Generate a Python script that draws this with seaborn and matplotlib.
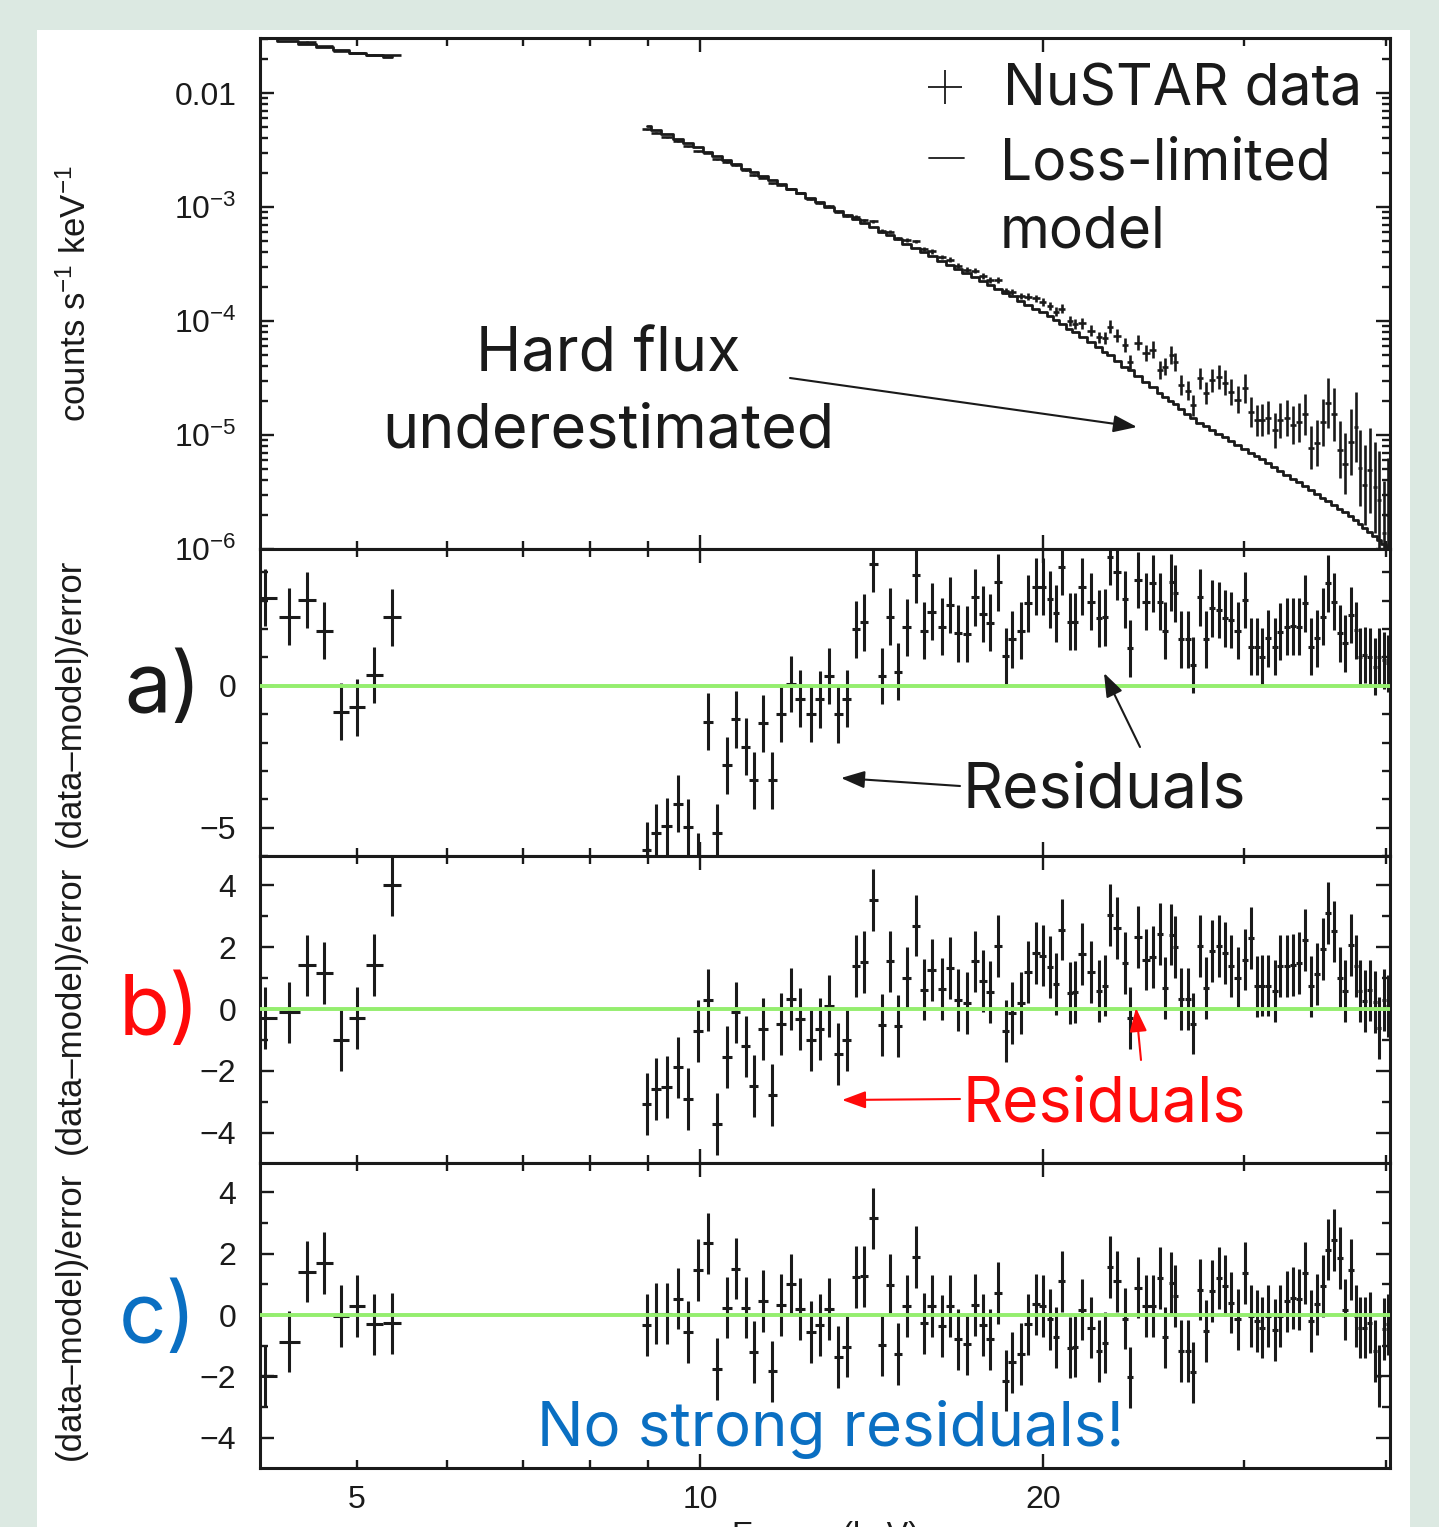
import numpy as np
import matplotlib
matplotlib.use("Agg")
import matplotlib.pyplot as plt
import seaborn as sns
from matplotlib.ticker import FixedLocator, FixedFormatter, NullFormatter, LogLocator
from matplotlib.patches import Rectangle, FancyArrowPatch
from matplotlib.lines import Line2D

sns.set_style("ticks")
plt.rcParams['font.family'] = ['Liberation Sans', 'DejaVu Sans']
plt.rcParams['mathtext.fontset'] = 'custom'
plt.rcParams['mathtext.rm'] = 'Liberation Sans'
plt.rcParams['mathtext.it'] = 'Liberation Sans:italic'
plt.rcParams['mathtext.bf'] = 'Liberation Sans:bold'

# ---------------- data ----------------
# energies of the spectral bins (keV), low band and high band
energy_low = [4.15, 4.36, 4.52, 4.68, 4.84, 5.00, 5.18, 5.37]
energy_high = [
    8.98, 9.15, 9.35, 9.57, 9.76, 9.96, 10.16, 10.35, 10.56, 10.75,
    10.97, 11.15, 11.36, 11.57, 11.78, 12.02, 12.24, 12.51, 12.74, 12.98,
    13.22, 13.46, 13.71, 13.93, 14.19, 14.45, 14.68, 14.92, 15.19, 15.47,
    15.73, 15.98, 16.31, 16.57, 16.84, 17.15, 17.43, 17.72, 17.97, 18.26,
    18.56, 18.79, 19.13, 19.40, 19.72, 20.00, 20.29, 20.53, 20.78, 21.12,
    21.34, 21.64, 22.04, 22.40, 22.67, 22.90, 23.23, 23.61, 23.85, 24.23,
    24.63, 24.98, 25.34, 25.59, 25.91, 26.12, 26.43, 26.81, 27.08, 27.47,
    27.80, 28.14, 28.54, 28.89, 29.24, 29.66, 30.08, 30.45, 30.82, 31.13,
    31.51, 31.96, 32.29, 32.75, 33.15, 33.55, 33.96, 34.38, 34.79, 35.22,
    35.58, 36.01, 36.45, 36.82, 37.27, 37.65, 37.95, 38.34, 38.73, 39.12,
    39.44, 39.84, 40.16]

# top panel: log10(counts s^-1 keV^-1) of the data, its error (dex) and the model
counts_low = [-1.49, -1.52, -1.55, -1.59, -1.63, -1.65, -1.665, -1.67]
counts_err_low = [0.004, 0.004, 0.004, 0.004, 0.004, 0.004, 0.004, 0.004]
model_low = [-1.51, -1.54, -1.57, -1.60, -1.62, -1.645, -1.67, -1.685]

counts_high = [
    -2.318, -2.349, -2.389, -2.425, -2.467, -2.511, -2.522, -2.582, -2.608, -2.632,
    -2.679, -2.719, -2.741, -2.793, -2.810, -2.841, -2.881, -2.931, -2.964, -2.993,
    -3.043, -3.075, -3.085, -3.115, -3.124, -3.211, -3.216, -3.275, -3.291, -3.301,
    -3.365, -3.390, -3.440, -3.462, -3.513, -3.552, -3.560, -3.605, -3.640, -3.641,
    -3.733, -3.747, -3.780, -3.785, -3.802, -3.830, -3.871, -3.918, -3.892, -4.000,
    -4.027, -4.020, -4.085, -4.143, -4.15, -4.05, -4.13, -4.21, -4.36, -4.19,
    -4.28, -4.25, -4.43, -4.40, -4.30, -4.36, -4.56, -4.61, -4.74, -4.50,
    -4.63, -4.52, -4.49, -4.54, -4.62, -4.69, -4.59, -4.80, -4.87, -4.87,
    -4.85, -4.96, -4.87, -4.85, -4.91, -4.89, -4.82, -5.11, -5.07, -4.89,
    -4.72, -4.82, -5.13, -5.25, -5.06, -4.93, -5.29, -5.44, -5.31, -5.46,
    -5.57, -5.86, -5.70]
counts_err_high = [
    .005, .005, .005, .006, .006, .006, .006, .007, .007, .007,
    .007, .008, .008, .008, .009, .009, .009, .010, .010, .011,
    .011, .012, .012, .013, .013, .014, .014, .015, .016, .016,
    .017, .018, .019, .020, .021, .022, .023, .024, .025, .026,
    .027, .028, .030, .031, .033, .034, .036, .038, .040, .042,
    .044, .046, .048, .050, .053, .056, .058, .061, .064, .067,
    .070, .072, .075, .077, .080, .082, .085, .087, .090, .092,
    .095, .100, .105, .110, .115, .120, .125, .130, .135, .140,
    .145, .150, .155, .160, .165, .170, .180, .190, .200, .210,
    .22, .23, .25, .27, .29, .31, .33, .35, .37, .40,
    .43, .46, .50]
model_high = [
    -2.289, -2.322, -2.362, -2.402, -2.438, -2.475, -2.514, -2.549, -2.589, -2.624,
    -2.664, -2.695, -2.731, -2.767, -2.802, -2.841, -2.877, -2.922, -2.959, -2.996,
    -3.033, -3.070, -3.108, -3.141, -3.178, -3.215, -3.248, -3.281, -3.320, -3.359,
    -3.394, -3.430, -3.473, -3.509, -3.544, -3.583, -3.618, -3.653, -3.684, -3.719,
    -3.755, -3.783, -3.824, -3.856, -3.892, -3.924, -3.956, -3.990, -4.023, -4.068,
    -4.096, -4.136, -4.186, -4.231, -4.269, -4.302, -4.347, -4.399, -4.431, -4.483,
    -4.535, -4.581, -4.629, -4.663, -4.704, -4.731, -4.772, -4.820, -4.854, -4.894,
    -4.924, -4.955, -4.991, -5.021, -5.052, -5.088, -5.124, -5.154, -5.187, -5.214,
    -5.247, -5.285, -5.312, -5.350, -5.383, -5.416, -5.449, -5.483, -5.517, -5.550,
    -5.579, -5.612, -5.646, -5.674, -5.709, -5.747, -5.777, -5.814, -5.851, -5.888,
    -5.918, -5.955, -5.985]

# residuals (data-model)/error for the three models
resid_a_low = [3.1, 2.44, 3.02, 1.94, -0.92, -0.76, 0.38, 2.41]
resid_a_high = [
    -5.8, -5.18, -4.95, -4.15, -4.98, -6.2, -1.27, -5.18, -2.8, -1.18,
    -2.15, -3.33, -1.33, -3.33, -0.98, 0.06, -0.45, -0.98, -0.48, 0.34,
    -1.0, -0.45, 1.99, 2.24, 4.29, 0.34, 2.44, 0.49, 2.06, 3.9,
    1.94, 2.61, 2.08, 2.85, 1.85, 1.82, 3.12, 2.53, 2.22, 3.65,
    1.05, 1.64, 1.94, 2.9, 3.49, 3.49, 3.05, 2.55, 4.2, 2.26,
    2.26, 3.49, 2.96, 2.38, 2.41, 4.55, 4.02, 3.05, 1.32, 3.73,
    2.96, 3.61, 2.96, 1.94, 3.64, 3.26, 1.64, 1.64, 0.73, 3.12,
    1.64, 2.73, 2.67, 2.38, 2.32, 1.94, 3.02, 1.38, 1.38, 1.02,
    1.67, 1.38, 1.91, 2.08, 2.1, 2.08, 2.9, 1.38, 1.67, 2.44,
    3.61, 2.96, 1.85, 1.49, 2.49, 1.96, 1.02, 1.08, 1.02, 0.67,
    1.02, 0.9, 0.79]

resid_b_low = [-0.29, -0.11, 1.41, 1.17, -0.99, -0.29, 1.43, 4.02]
resid_b_high = [
    -3.06, -2.58, -2.52, -1.89, -2.9, -0.72, 0.3, -3.71, -1.56, -0.11,
    -1.21, -2.48, -0.64, -2.77, -0.49, 0.33, -0.32, -0.99, -0.65, 0.1,
    -1.45, -1.01, 1.38, 1.51, 3.52, -0.51, 1.54, -0.56, 1.0, 2.7,
    0.63, 1.25, 0.65, 1.33, 0.3, 0.19, 1.54, 0.9, 0.54, 2.03,
    -0.72, -0.13, 0.19, 1.19, 1.81, 1.73, 1.36, 0.82, 2.57, 0.52,
    0.54, 1.79, 1.19, 0.57, 0.76, 3.05, 2.62, 1.49, -0.29, 2.33,
    1.6, 1.68, 2.44, 0.68, 2.41, 2.01, 0.32, 0.32, -0.47, 2.05,
    0.68, 1.87, 2.03, 1.81, 1.38, 1.0, 1.6, 2.3, 0.73, 0.76,
    0.76, 0.57, 1.38, 1.38, 1.43, 1.49, 2.24, 0.73, 1.14, 1.94,
    3.11, 2.51, 1.0, 0.57, 2.08, 1.4, 0.57, 0.25, 0.6, 0.22,
    -0.61, 0.3, 0.1]

resid_c_low = [-2.0, -0.87, 1.41, 1.7, -0.03, 0.3, -0.3, -0.27]
resid_c_high = [
    -0.33, 0.05, 0.05, 0.53, -0.55, 1.47, 2.33, -1.75, 0.24, 1.51,
    0.24, -1.2, 0.46, -1.83, 0.33, 1.0, 0.2, -0.55, -0.33, 0.2,
    -1.36, -1.03, 1.24, 1.26, 3.15, -0.98, 0.99, -1.27, 0.29, 1.89,
    -0.27, 0.29, -0.36, 0.29, -0.79, -0.95, 0.32, -0.33, -0.79, 0.72,
    -2.14, -1.54, -1.27, -0.3, 0.35, 0.29, -0.14, -0.73, 1.1, -1.06,
    -1.03, 0.18, -0.41, -1.17, -0.9, 1.57, 1.1, -0.12, -2.03, 0.89,
    0.29, 0.29, 1.21, -0.73, 1.05, 0.62, -1.17, -1.17, -1.87, 0.83,
    -0.52, 0.78, 1.21, 0.96, 0.4, -0.14, 1.37, -0.03, -0.19, -0.41,
    -0.03, -0.49, -0.03, 0.45, 0.56, 0.51, 1.37, -0.19, 0.35, 0.94,
    2.13, 2.45, 1.86, 0.18, 1.48, -0.03, -0.41, -0.41, -0.25, -1.17,
    -1.98, -0.46, -0.3]

# ---------------- figure ----------------
W, H = 1439, 1527
BG = '#dce9e2'
INK = '#1a1a1a'
GREEN = '#94ee6e'
RED = '#ff0a0a'
BLUE = '#0a6fc2'

fig = plt.figure(figsize=(W / 100, H / 100), dpi=100, facecolor=BG)
fig.add_artist(Rectangle((37 / W, 0), (1410 - 37) / W, 1 - 30 / H,
                         transform=fig.transFigure, facecolor='white',
                         edgecolor='none', zorder=-10))


def fx(x):
    return x / W


def fy(y):
    return 1 - y / H


def box(top, bottom):
    return [fx(260), fy(bottom), fx(1390) - fx(260), (bottom - top) / H]


ax_top = fig.add_axes(box(38, 549))
ax_a = fig.add_axes(box(549, 856))
ax_b = fig.add_axes(box(856, 1163))
ax_c = fig.add_axes(box(1163, 1468))
axes = [ax_top, ax_a, ax_b, ax_c]

e_low = np.array(energy_low)
e_high = np.array(energy_high)
energy = np.concatenate([e_low, e_high])
xerr = np.concatenate([np.gradient(e_low) / 2, np.gradient(e_high) / 2])

# top panel: spectrum and model
cts = 10 ** np.array(counts_low + counts_high)
dex = np.array(counts_err_low + counts_err_high)
yerr = [cts * (1 - 10 ** -dex), cts * (10 ** dex - 1)]
ax_top.errorbar(energy, cts, yerr=yerr, xerr=xerr, fmt='none',
                ecolor=INK, elinewidth=1.9)
sns.lineplot(x=e_low, y=10 ** np.array(model_low), ax=ax_top, color=INK,
             lw=2.0, drawstyle='steps-mid', estimator=None)
sns.lineplot(x=e_high, y=10 ** np.array(model_high), ax=ax_top, color=INK,
             lw=2.0, drawstyle='steps-mid', estimator=None)
ax_top.set_yscale('log')
ax_top.set_ylim(1e-6, 0.0304)
ax_top.yaxis.set_major_locator(FixedLocator([1e-6, 1e-5, 1e-4, 1e-3, 1e-2]))
ax_top.yaxis.set_major_formatter(FixedFormatter(
    [r'$10^{-6}$', r'$10^{-5}$', r'$10^{-4}$', r'$10^{-3}$', '0.01']))
ax_top.yaxis.set_minor_locator(LogLocator(base=10, subs=np.arange(2, 10)))
ax_top.yaxis.set_minor_formatter(NullFormatter())
ax_top.set_ylabel(r'counts s$^{-1}$ keV$^{-1}$', fontsize=25, color=INK)
ax_top.yaxis.set_label_coords(-0.148, 0.5)

# residual panels
residuals = [resid_a_low + resid_a_high,
             resid_b_low + resid_b_high,
             resid_c_low + resid_c_high]
for ax, res in zip([ax_a, ax_b, ax_c], residuals):
    ax.errorbar(energy, res, yerr=1.0, xerr=xerr, fmt='none',
                ecolor=INK, elinewidth=2.2)
    ax.axhline(0, color=GREEN, lw=2.8, zorder=3)
    ax.set_ylabel('(data\u2013model)/error', fontsize=25, color=INK)
    ax.yaxis.set_label_coords(-0.153, 0.5)

ax_a.set_ylim(-6, 4.82)
ax_a.yaxis.set_major_locator(FixedLocator([-5, 0]))
ax_a.yaxis.set_minor_locator(FixedLocator([-6, -4, -3, -2, -1, 1, 2, 3, 4]))
for ax in (ax_b, ax_c):
    ax.set_ylim(-4.98, 4.95)
    ax.yaxis.set_major_locator(FixedLocator([-4, -2, 0, 2, 4]))
    ax.yaxis.set_minor_locator(FixedLocator([-5, -3, -1, 1, 3, 5]))

for ax in axes:
    ax.set_xscale('log')
    ax.set_xlim(4.11, 40.33)
    ax.xaxis.set_major_locator(FixedLocator([10, 20]))
    ax.xaxis.set_major_formatter(FixedFormatter(['10', '20']))
    ax.xaxis.set_minor_locator(FixedLocator([5, 6, 7, 8, 9, 30, 40]))
    ax.xaxis.set_minor_formatter(FixedFormatter(['5', '', '', '', '', '', '']))
    ax.set_xlabel('')
    ax.tick_params(which='both', direction='in', top=True, right=True,
                   width=1.7, color=INK, labelsize=23, labelcolor=INK)
    ax.tick_params(axis='y', which='both', pad=17)
    ax.tick_params(axis='x', which='both', pad=12)
    ax.tick_params(which='major', length=10)
    ax.tick_params(which='minor', length=5.5)
    for s in ax.spines.values():
        s.set_linewidth(2.2)
        s.set_color(INK)
    if ax is not ax_c:
        ax.tick_params(axis='x', which='both', labelbottom=False)

# axis title, cut by the lower edge as in the source image
fig.text(fx(825), fy(1521), 'Energy (keV)', ha='center', va='top',
         fontsize=23, color=INK)

# ---------------- annotations ----------------
ann = dict(family='Inter', va='baseline')
fig.add_artist(Line2D([fx(945)], [fy(87)], marker='+', markersize=24,
                      mew=1.3, color=INK, transform=fig.transFigure))
fig.add_artist(Line2D([fx(929), fx(964)], [fy(158), fy(158)], lw=1.3,
                      color=INK, transform=fig.transFigure))
fig.text(fx(1003), fy(105), 'NuSTAR data', fontsize=41, color=INK, **ann)
fig.text(fx(1000), fy(180), 'Loss-limited', fontsize=41, color=INK, **ann)
fig.text(fx(1000), fy(248), 'model', fontsize=41, color=INK, **ann)

fig.text(fx(608), fy(372), 'Hard flux', fontsize=44, color=INK, ha='center', **ann)
fig.text(fx(608), fy(447), 'underestimated', fontsize=44, color=INK, ha='center', **ann)

fig.text(fx(963), fy(808), 'Residuals', fontsize=45, color=INK, **ann)
fig.text(fx(963), fy(1122), 'Residuals', fontsize=45, color=RED, **ann)
fig.text(fx(537), fy(1446), 'No strong residuals!', fontsize=44.5, color=BLUE, **ann)

fig.text(fx(124), fy(712), 'a)', fontsize=60, color=INK, **ann)
fig.text(fx(119), fy(1034), 'b)', fontsize=60, color=RED, **ann)
fig.text(fx(119), fy(1342), 'c)', fontsize=60, color=BLUE, **ann)


def arrow(x0, y0, x1, y1, color):
    fig.add_artist(FancyArrowPatch(
        (fx(x0), fy(y0)), (fx(x1), fy(y1)), transform=fig.transFigure,
        arrowstyle='-|>,head_length=0.6,head_width=0.22', mutation_scale=24,
        lw=1.5, color=color, shrinkA=0, shrinkB=0))


arrow(790, 378, 1137, 427, INK)
arrow(960, 786, 841, 778, INK)
arrow(1140, 747, 1104, 673, INK)
arrow(960, 1099, 842, 1100, RED)
arrow(1141, 1060, 1136, 1008, RED)

fig.savefig('out.png', dpi=100, facecolor=BG)
